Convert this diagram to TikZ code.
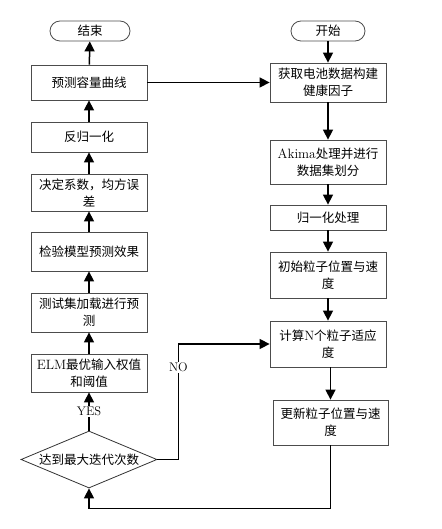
\documentclass[tikz,border=0pt]{standalone}
\usepackage{fontspec}
\newfontfamily\cjk{Noto Sans CJK SC}
\usetikzlibrary{shapes.geometric, arrows.meta}
\newcommand{\eng}[1]{{\rmfamily\fontsize{13.5}{17}\selectfont #1}}
\tikzset{
  box/.style={draw=black!70, line width=0.8pt, minimum width=116pt, inner sep=2pt,
    align=center, font=\fontsize{12.5}{17}\selectfont\cjk},
  term/.style={box, rounded corners=10pt, minimum height=20pt},
  decision/.style={diamond, draw=black!80, line width=0.8pt, aspect=2.4, inner sep=0pt,
    minimum width=136pt, minimum height=57pt, font=\fontsize{12.5}{17}\selectfont\cjk},
  arr/.style={-{Triangle[length=10pt,width=10pt]}, line width=1.5pt},
  lbl/.style={fill=white, inner sep=1pt, font=\fontsize{12.5}{15}\selectfont}
}

\begin{document}
\begin{tikzpicture}[x=1pt, y=-1pt]
  \useasboundingbox (0,0) rectangle (441,529);
  % left column
  \node[term, minimum width=80pt] (end) at (90,31) {结束};
  \node[box, minimum height=35pt] (pred) at (89,82.5) {预测容量曲线};
  \node[box, minimum height=30pt] (inv) at (89,137) {反归一化};
  \node[box, minimum height=37pt] (coef) at (89,192.5) {决定系数，均方误\\差};
  \node[box, minimum height=39pt] (check) at (89,251.5) {检验模型预测效果};
  \node[box, minimum height=39pt] (test) at (89,312.5) {测试集加载进行预\\测};
  \node[box, minimum height=38pt] (elm) at (89,373) {\eng{ELM}最优输入权值\\和阈值};
  \node[decision] (judge) at (89,459.5) {达到最大迭代次数};
  % right column
  \node[term, minimum width=74pt] (start) at (328,31) {开始};
  \node[box, minimum height=39pt] (get) at (328,82.5) {获取电池数据构建\\健康因子};
  \node[box, minimum height=44pt] (akima) at (328,162) {\eng{Akima}处理并进行\\数据集划分};
  \node[box, minimum height=25pt] (norm) at (328,217.5) {归一化处理};
  \node[box, minimum height=46pt] (init) at (328,275) {初始粒子位置与速\\度};
  \node[box, minimum height=46pt] (calc) at (328,344) {计算\eng{N}个粒子适应\\度};
  \node[box, minimum height=45pt, minimum width=115pt] (update) at (330.5,422.5) {更新粒子位置与速\\度};

  % connectors
  \draw[arr] (start) -- (get);
  \draw[arr] (get) -- (akima);
  \draw[arr] (akima) -- (norm);
  \draw[arr] (norm) -- (init);
  \draw[arr] (init) -- (calc);
  \draw[arr] (calc.south -| update) -- (update);
  \draw[arr] (update.south) -- ++(0,63) -| (judge.south);
  \draw[arr] (judge) -- node[lbl] {YES} (elm);
  \draw[arr] (judge.east) -- ++(21,0) |- node[lbl, pos=0.4] {NO} (calc.west);
  \draw[arr] (elm) -- (test);
  \draw[arr] (test) -- (check);
  \draw[arr] (check) -- (coef);
  \draw[arr] (coef) -- (inv);
  \draw[arr] (inv) -- (pred);
  \draw[arr] (pred) -- (end);
  \draw[arr] (pred) -- (get);
\end{tikzpicture}
\end{document}
